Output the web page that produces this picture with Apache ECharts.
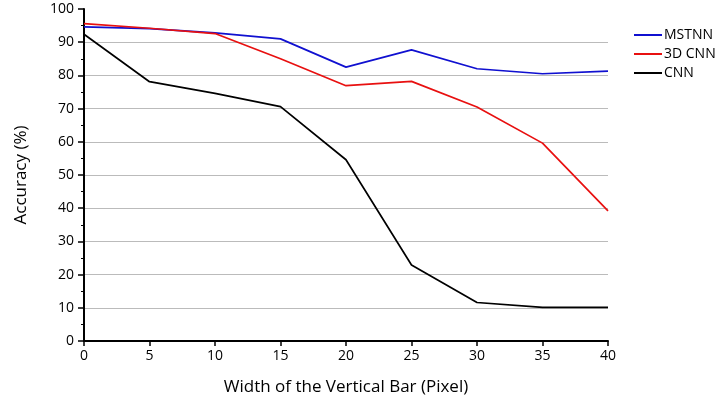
<!DOCTYPE html>
<html><head><meta charset="utf-8">
<script src="https://cdn.jsdelivr.net/npm/echarts@6/dist/echarts.min.js"></script>
<style>html,body{margin:0;padding:0;background:#fff}#c{width:718px;height:401px}</style>
</head><body><div id="c"></div>
<script>
const widths = [0, 5, 10, 15, 20, 25, 30, 35, 40];
const mstnn = [94.6, 94.1, 92.8, 91.0, 82.5, 87.7, 82.0, 80.5, 81.3];
const cnn3d = [95.6, 94.2, 92.6, 85.0, 76.9, 78.2, 70.5, 59.6, 39.2];
const cnn = [92.4, 78.1, 74.6, 70.6, 54.6, 22.9, 11.6, 10.1, 10.1];
const seriesNames = ['MSTNN', '3D CNN', 'CNN'];
const colors = ['#1010d0', '#e81010', '#000000'];
const font = 'Open Sans';
const chart = echarts.init(document.getElementById('c'));
const mk = (name, vals, col) => ({
  name, type: 'line', data: widths.map((w, i) => [w, vals[i]]),
  symbol: 'none', lineStyle: {color: col, width: 1.7}, itemStyle: {color: col}, animation: false
});
chart.setOption({
  animation: false,
  grid: {left: 84, right: 110, top: 9, bottom: 59, containLabel: false},
  legend: {
    orient: 'vertical', left: 629, top: 23, itemGap: 5, itemWidth: 28, itemHeight: 2,
    icon: 'rect', textStyle: {fontFamily: font, fontSize: 14, fontWeight: 500, color: '#000', padding: [0,0,0,-3]},
    data: seriesNames
  },
  xAxis: {
    type: 'value', min: 0, max: 40, interval: 5,
    name: 'Width of the Vertical Bar (Pixel)', nameLocation: 'middle', nameGap: 38,
    nameTextStyle: {fontFamily: font, fontSize: 17, fontWeight: 500, color: '#000'},
    axisLine: {show: true, lineStyle: {color: '#000', width: 2}},
    axisTick: {show: true, length: 5, lineStyle: {color: '#000', width: 1.5}},
    axisLabel: {fontFamily: font, fontSize: 14, fontWeight: 500, color: '#000', margin: 8},
    splitLine: {show: false}
  },
  yAxis: {
    type: 'value', min: 0, max: 100, interval: 10,
    name: 'Accuracy (%)', nameLocation: 'middle', nameGap: 54,
    nameTextStyle: {fontFamily: font, fontSize: 17, fontWeight: 500, color: '#000'},
    axisLine: {show: true, lineStyle: {color: '#000', width: 2}},
    axisTick: {show: true, length: 6, lineStyle: {color: '#000', width: 1.5}},
    minorTick: {show: true, splitNumber: 2, length: 3, lineStyle: {color: '#000', width: 1}},
    axisLabel: {fontFamily: font, fontSize: 14, fontWeight: 500, color: '#000', margin: 10},
    splitLine: {show: true, showMaxLine: false, showMinLine: false, lineStyle: {color: '#bbbbbb', width: 1}},
    minorSplitLine: {show: false}
  },
  series: [mk(seriesNames[0], mstnn, colors[0]), mk(seriesNames[1], cnn3d, colors[1]), mk(seriesNames[2], cnn, colors[2])]
});
</script></body></html>
